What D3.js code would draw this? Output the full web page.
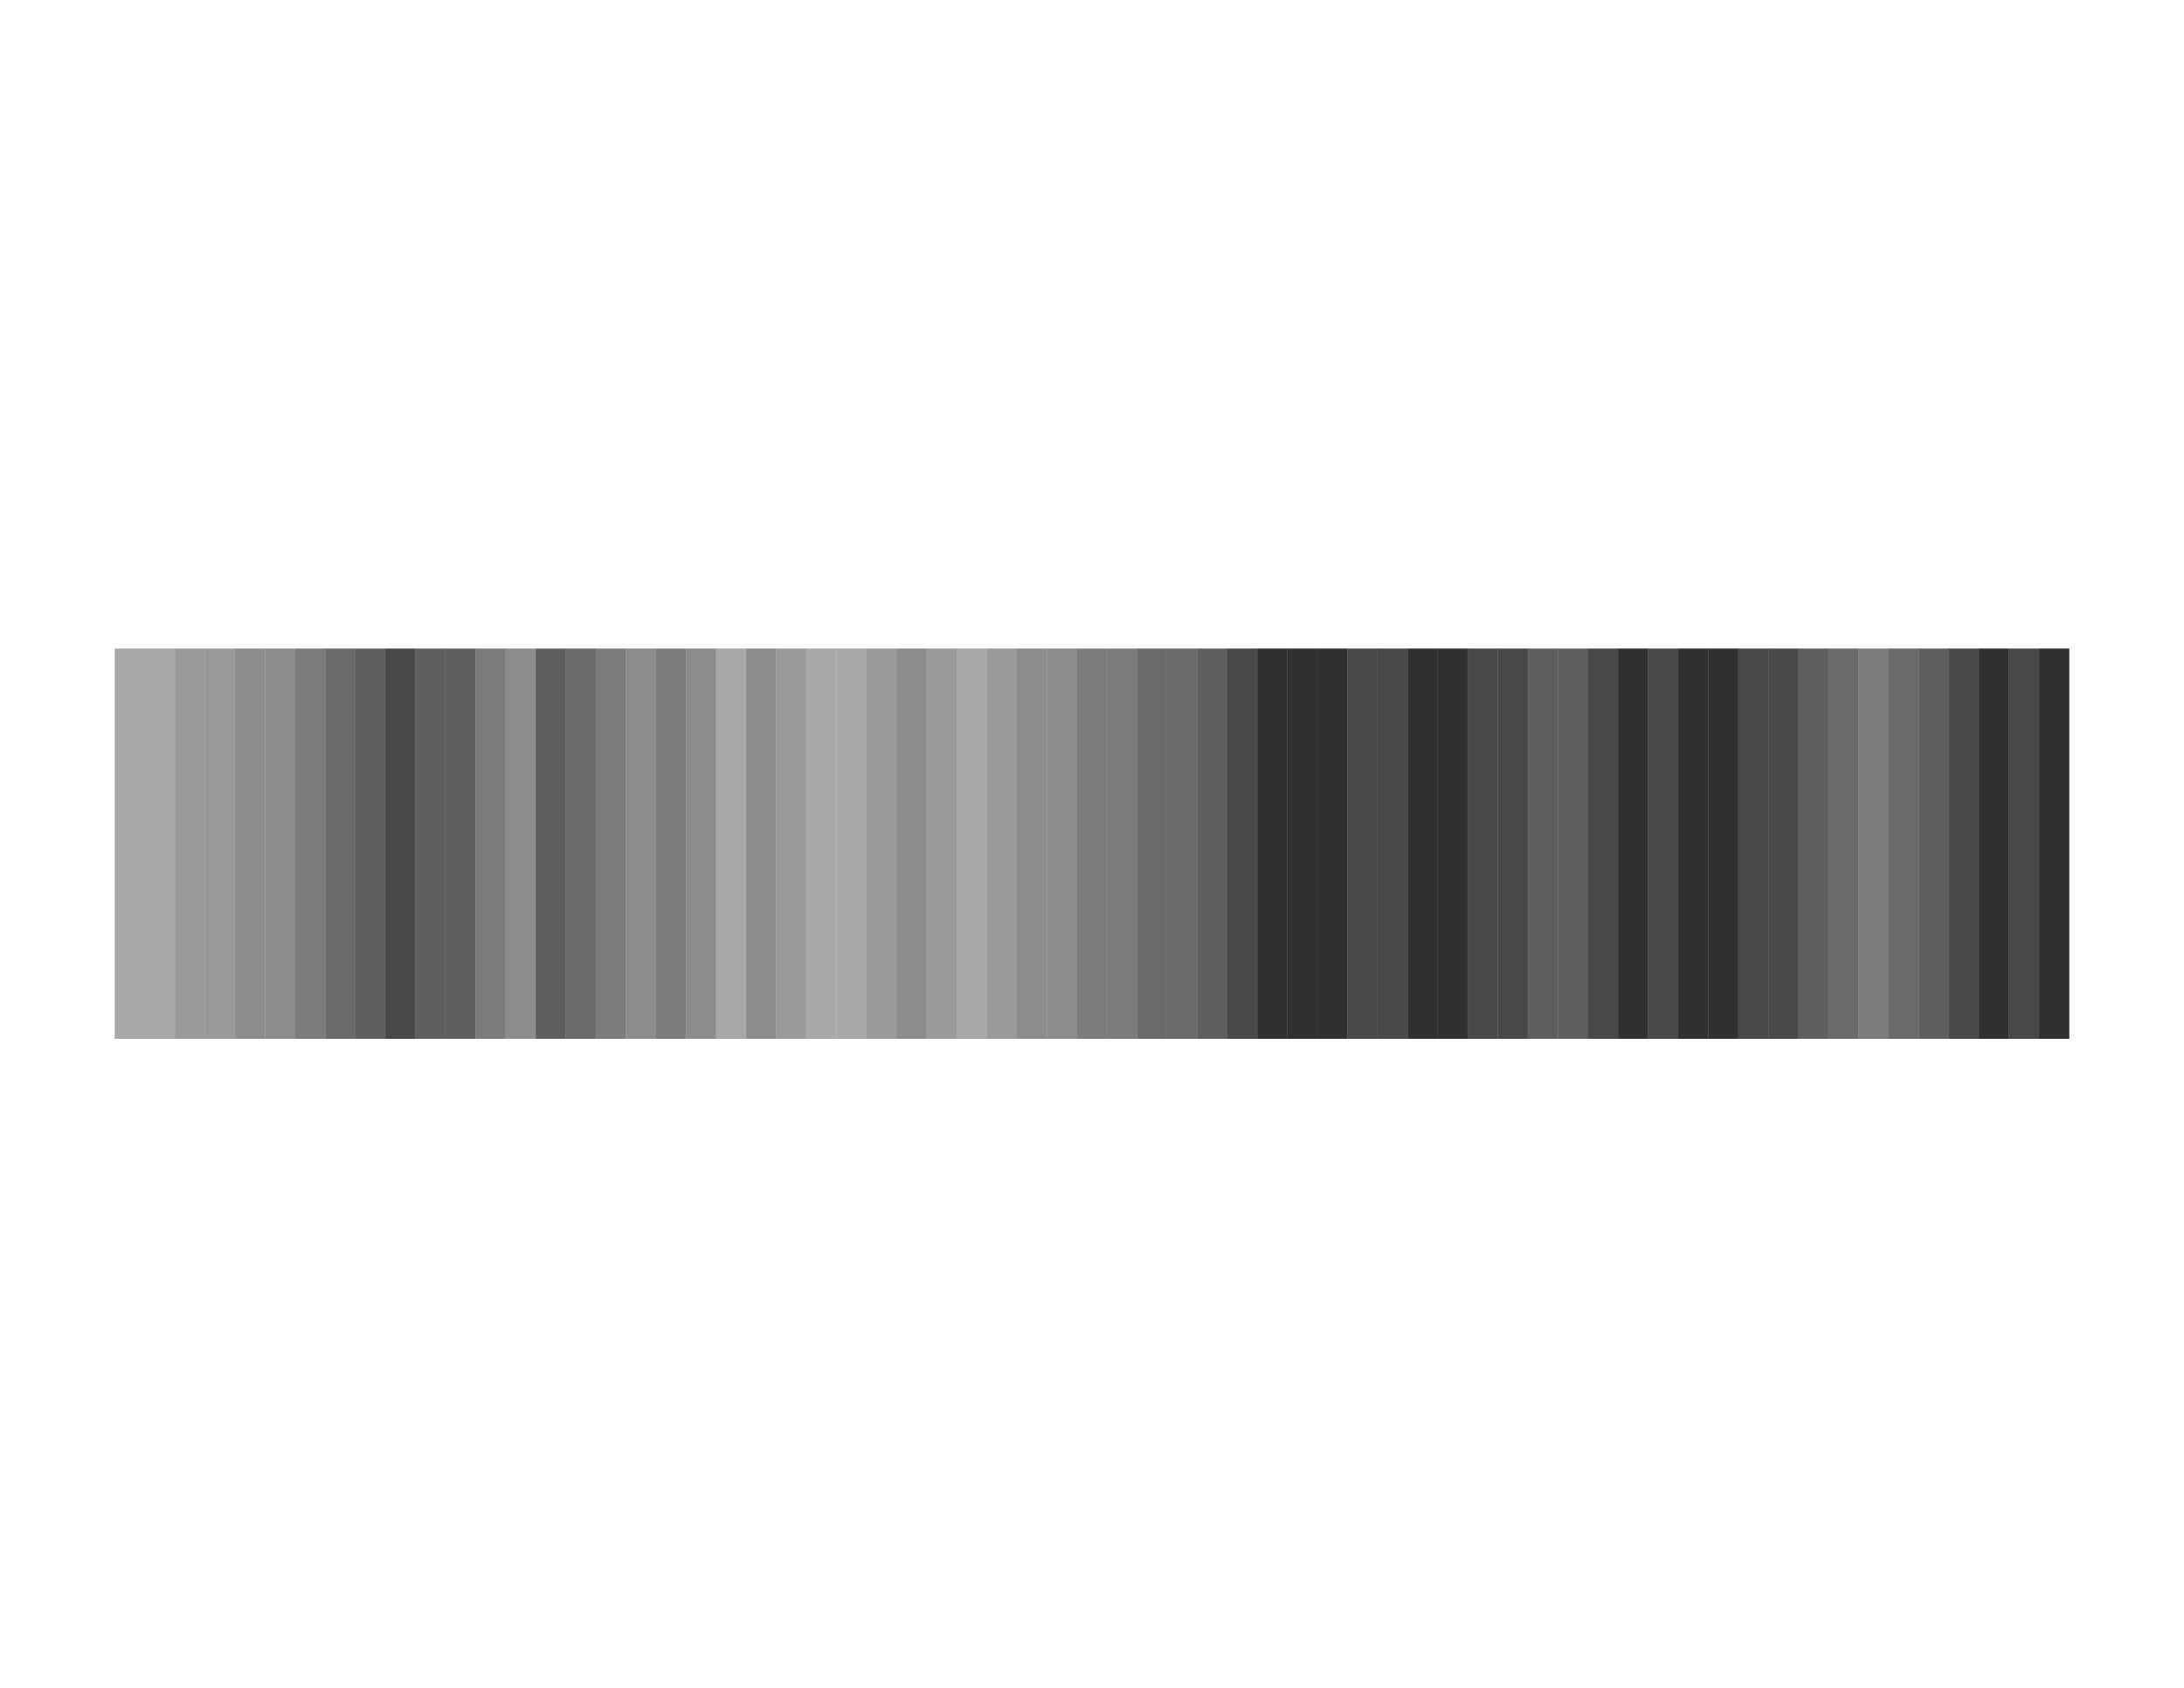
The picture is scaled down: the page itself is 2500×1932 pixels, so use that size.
<!DOCTYPE html>
<html>
<head>
<meta charset="utf-8">
<script src="https://cdn.jsdelivr.net/npm/d3@7"></script>
<style>
  html, body { margin: 0; padding: 0; background: #ffffff; }
  svg { display: block; }
</style>
</head>
<body>
<div id="chart"></div>
<script>
// stripe levels, read left to right (0 = lightest, 7 = darkest)
var levels = [
  0, 0, 1, 1, 2, 2, 3, 4, 5, 6,
  5, 5, 3, 2, 5, 4, 3, 2, 3, 2,
  0, 2, 1, 0, 0, 1, 2, 1, 0, 1,
  2, 2, 3, 3, 4, 4, 5, 6, 7, 7,
  7, 6, 6, 7, 7, 6, 6, 5, 5, 6,
  7, 6, 7, 7, 6, 6, 5, 4, 3, 4,
  5, 6, 7, 6, 7
];

// one category per stripe
var stripes = levels.map(function (d, i) { return i + 1; });

// grey ramp used for the levels
var greys = [
  "#a8a8a8", "#999999", "#8c8c8c", "#7b7b7b",
  "#6a6a6a", "#5e5e5e", "#484848", "#303030"
];

var width = 2500;
var height = 1932;
var margin = { top: 742.3, right: 131.7, bottom: 743, left: 131.3 };

var svg = d3.select("#chart")
  .append("svg")
  .attr("width", width)
  .attr("height", height);

var xScale = d3.scaleBand()
  .domain(stripes)
  .range([margin.left, width - margin.right])
  .padding(0);

var colorScale = d3.scaleOrdinal()
  .domain(d3.range(greys.length))
  .range(greys);

var y0 = margin.top;
var y1 = height - margin.bottom;

svg.append("g")
  .selectAll("rect")
  .data(levels)
  .enter()
  .append("rect")
  .attr("x", function (d, i) { return xScale(stripes[i]); })
  .attr("y", y0)
  .attr("width", xScale.bandwidth() + 0.4)
  .attr("height", y1 - y0)
  .attr("fill", function (d) { return colorScale(d); });

// faint seams between stripes
svg.append("g")
  .selectAll("line")
  .data(stripes.slice(1))
  .enter()
  .append("line")
  .attr("x1", function (d) { return xScale(d); })
  .attr("x2", function (d) { return xScale(d); })
  .attr("y1", y0)
  .attr("y2", y1)
  .attr("stroke", "#ffffff")
  .attr("stroke-opacity", 0.07)
  .attr("stroke-width", 1);
</script>
</body>
</html>
